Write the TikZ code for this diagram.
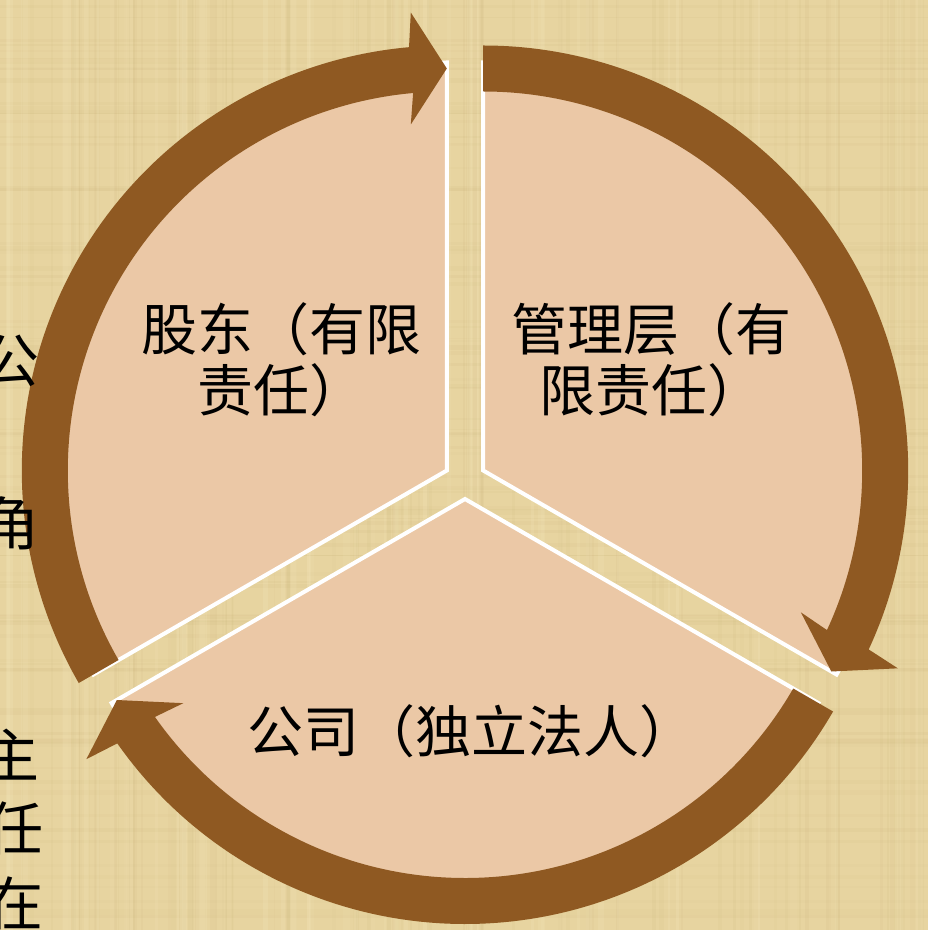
\documentclass[tikz,border=0pt]{standalone}
\usepackage{fontspec}
\newfontfamily\cjk{Noto Sans CJK SC}
\usetikzlibrary{calc}
\definecolor{parch}{RGB}{231,212,160}
\definecolor{parchdark}{RGB}{190,165,105}
\definecolor{parchlight}{RGB}{248,236,196}
\definecolor{pinkfill}{RGB}{235,200,166}
\definecolor{arrowbrown}{RGB}{143,89,34}
\tikzset{
  piesec/.style={fill=pinkfill, draw=white, line width=2pt, line join=miter},
  ringarr/.style={fill=arrowbrown},
  lbl/.style={font=\cjk\fontsize{28}{30.5}\selectfont, align=center, inner sep=0pt, text=black},
  sidechar/.style={font=\cjk\fontsize{29}{30}\selectfont, inner sep=0pt, anchor=east, text=black}
}
\newcommand\ringarrow[1]{%
  \pgfmathsetmacro\arTail{#1+120}%
  \pgfmathsetmacro\arBack{#1+5.1}%
  \fill[ringarr] (\arTail:379) arc[start angle=\arTail,end angle=\arBack,radius=379]
    -- ($(#1:346)+(#1+90:36)$) -- (#1:402) -- ($(#1:458)+(#1+90:36)$)
    -- (\arBack:425) arc[start angle=\arBack,end angle=\arTail,radius=425] -- cycle;}
\begin{document}
\begin{tikzpicture}[x=0.5pt,y=0.5pt]
\useasboundingbox (0,0) rectangle (928,-930);
\clip (0,0) rectangle (928,-930);
\fill[parch] (0,0) rectangle (928,-930);
% parchment texture
\pgfmathsetseed{42}
\foreach \i in {1,...,90}{
  \pgfmathsetmacro\xx{rnd*928}
  \pgfmathsetmacro\ww{1+rnd*4}
  \pgfmathsetmacro\oo{0.03+rnd*0.06}
  \draw[parchdark, line width=\ww*0.5pt, opacity=\oo] (\xx,0) -- (\xx,-930);
}
\foreach \i in {1,...,90}{
  \pgfmathsetmacro\yy{rnd*930}
  \pgfmathsetmacro\ww{1+rnd*4}
  \pgfmathsetmacro\oo{0.03+rnd*0.06}
  \draw[parchdark, line width=\ww*0.5pt, opacity=\oo] (0,-\yy) -- (928,-\yy);
}
\foreach \i in {1,...,50}{
  \pgfmathsetmacro\xx{rnd*928}
  \pgfmathsetmacro\ww{2+rnd*6}
  \pgfmathsetmacro\oo{0.06+rnd*0.12}
  \draw[parchlight, line width=\ww*0.5pt, opacity=\oo] (\xx,0) -- (\xx,-930);
}
% apexes
\coordinate (A1) at (446.8,-470.5);
\coordinate (A2) at (483.2,-470.5);
\coordinate (A3) at (465,-499);
% sectors
\begin{scope}[shift={(A1)}]
  \path[piesec] (0,0) -- (90:408) arc[start angle=90,end angle=210,radius=408] -- cycle;
\end{scope}
\begin{scope}[shift={(A2)}]
  \path[piesec] (0,0) -- (-30:408) arc[start angle=-30,end angle=90,radius=408] -- cycle;
\end{scope}
\begin{scope}[shift={(A3)}]
  \path[piesec] (0,0) -- (210:408) arc[start angle=210,end angle=330,radius=408] -- cycle;
\end{scope}
% arrows
\begin{scope}[shift={(A1)}] \ringarrow{90} \end{scope}
\begin{scope}[shift={(A2)}] \ringarrow{-30} \end{scope}
\begin{scope}[shift={(A3)}] \ringarrow{-150} \end{scope}
% labels
\node[lbl] (sh) at (281,-360) {股东（有限\\责任）};
\node[lbl] (mg) at (651,-360) {管理层（有\\限责任）};
\node[lbl] (co) at (471,-731) {公司（独立法人）};
% partial text at left edge
\node[sidechar] (s1) at (40,-361) {公};
\node[sidechar] (s2) at (40,-524) {角};
\node[sidechar] (s3) at (40,-755) {主};
\node[sidechar] (s4) at (44,-828) {任};
\node[sidechar] (s5) at (44,-903) {在};
\end{tikzpicture}
\end{document}
